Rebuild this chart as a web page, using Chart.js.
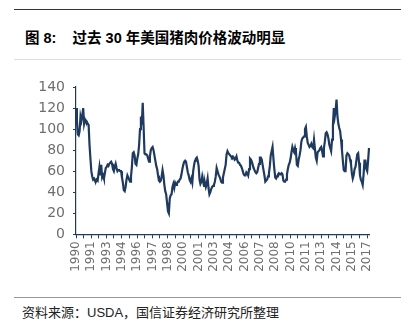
<!DOCTYPE html>
<html>
<head>
<meta charset="utf-8">
<script src="https://cdn.jsdelivr.net/npm/chart.js@4.4.1/dist/chart.umd.min.js"></script>
<style>
    html, body { margin: 0; padding: 0; background: #fff; }
    body { width: 413px; height: 324px; position: relative; overflow: hidden; font-family: "Liberation Sans", "Noto Sans CJK SC", sans-serif; }
    .rule { position: absolute; left: 14px; width: 387px; }
    #title { position: absolute; left: 25px; top: 26px; font-size: 14.5px; font-weight: bold; color: #000; white-space: pre; font-family: "Liberation Sans", "Noto Sans CJK SC", sans-serif; }
    #source { position: absolute; left: 22px; top: 302px; font-size: 13px; color: #222; white-space: pre; font-family: "Liberation Sans", "Noto Sans CJK SC", sans-serif; }
    #wrap { position: absolute; left: 0; top: 70px; width: 413px; height: 210px; }
</style>
</head>
<body>
<div class="rule" style="top: 9px; height: 1px; background: #333;"></div>
<div id="title">图 8:    过去 30 年美国猪肉价格波动明显</div>
<div class="rule" style="top: 59px; height: 1px; background: #ddd;"></div>
<div id="wrap"><canvas id="porkChart" width="413" height="210"></canvas></div>
<div class="rule" style="top: 297px; height: 1px; background: #999;"></div>
<div id="source">资料来源：USDA，国信证券经济研究所整理</div>

<script>
// 月度数据：1990年6月 - 2017年7月
const startYear = 1990;
const startMonth = 6;

// 美国猪肉价格
const porkPrice = [
    120, 108, 95, 94, 98, 112, 108, 113, 120, 105,
    109, 107, 107, 105, 104, 85, 72, 60, 55, 52,
    53, 51, 50, 52, 51, 58, 64, 56, 66, 54,
    56, 53, 58, 63, 64, 66, 65, 67, 68, 69,
    67, 62, 60, 64, 67, 63, 60, 61, 61, 60,
    60, 54, 49, 42, 41, 45, 52, 56, 54, 52,
    50, 55, 64, 77, 78, 75, 67, 66, 72, 76,
    85, 100, 112, 104, 125, 102, 77, 76, 76, 75,
    72, 69, 74, 80, 82, 83, 80, 75, 70, 65,
    62, 56, 51, 50, 51, 55, 61, 56, 47, 41,
    38, 30, 22, 20, 34, 37, 38, 45, 48, 44,
    49, 47, 48, 50, 50, 52, 53, 57, 62, 66,
    69, 70, 69, 64, 59, 56, 52, 50, 53, 49,
    60, 66, 70, 72, 73, 70, 65, 52, 48, 50,
    55, 50, 46, 49, 45, 48, 53, 44, 38, 40,
    43, 45, 46, 47, 50, 55, 63, 60, 57, 55,
    53, 50, 49, 54, 58, 62, 66, 76, 79, 77,
    76, 75, 74, 73, 74, 73, 71, 72, 74, 70,
    68, 68, 66, 65, 63, 60, 57, 56, 56, 59,
    58, 56, 62, 72, 71, 69, 66, 63, 61, 59,
    58, 59, 63, 67, 73, 73, 71, 66, 61, 56,
    50, 51, 52, 55, 58, 65, 75, 79, 83, 72,
    62, 54, 53, 55, 57, 58, 57, 57, 58, 57,
    51, 50, 50, 52, 57, 62, 66, 68, 72, 78,
    83, 80, 78, 82, 78, 66, 65, 71, 75, 80,
    88, 91, 92, 93, 100, 102, 93, 87, 85, 83,
    84, 86, 83, 82, 90, 90, 73, 70, 78, 79,
    80, 82, 83, 79, 74, 82, 88, 96, 97, 95,
    91, 85, 82, 79, 90, 104, 120, 112, 118, 128,
    112, 105, 101, 98, 90, 80, 70, 61, 60, 60,
    75, 77, 76, 75, 71, 67, 58, 53, 56, 62,
    64, 70, 76, 77, 68, 56, 52, 50, 47, 57,
    70, 70, 62, 60, 70, 82
];

// x轴标签（每17个月一个）
const tickLabels = ['1990', '1991', '1993', '1994', '1996', '1997', '1998', '2000', '2001', '2003',
    '2004', '2006', '2007', '2008', '2010', '2011', '2013', '2014', '2015', '2017'];
const labelStep = 17;

const yTicks = [0, 20, 40, 60, 80, 100, 120, 140];

const months = porkPrice.map(function (_, i) {
    const m = startMonth - 1 + i;
    return (startYear + Math.floor(m / 12)) + '-' + String(m % 12 + 1).padStart(2, '0');
});

const navy = '#1f3a5f';
const grey = '#6e6e6e';

const ctx = document.getElementById('porkChart').getContext('2d');
new Chart(ctx, {
    type: 'line',
    data: {
        labels: months,
        datasets: [{
            data: porkPrice,
            borderColor: navy,
            borderWidth: 2.2,
            pointRadius: 0,
            tension: 0,
            fill: false
        }]
    },
    options: {
        responsive: false,
        animation: false,
        layout: { padding: { top: 17, right: 44, left: 0, bottom: 0 } },
        plugins: {
            legend: { display: false },
            tooltip: { enabled: false }
        },
        scales: {
            x: {
                offset: false,
                grid: { display: true, drawOnChartArea: false, drawTicks: true, tickLength: 4, color: navy, lineWidth: 1 },
                border: { display: true, color: navy, width: 1.2 },
                ticks: {
                    autoSkip: false,
                    minRotation: 90,
                    maxRotation: 90,
                    padding: 3,
                    color: grey,
                    font: { family: 'DejaVu Sans', size: 12 },
                    callback: function (value) {
                        return value % labelStep === 0 ? tickLabels[value / labelStep] : '';
                    }
                },
                afterBuildTicks: function (axis) {
                    axis.ticks = axis.ticks.filter(function (t) {
                        const r = t.value % labelStep;
                        return r === 0 || r === 8;
                    });
                },
                afterFit: function (axis) { axis.height = 45.7; }
            },
            y: {
                min: 0,
                max: 140,
                grid: { display: true, drawOnChartArea: false, drawTicks: true, tickLength: 3, color: navy },
                border: { display: true, color: navy, width: 1.2 },
                afterBuildTicks: function (axis) {
                    axis.ticks = yTicks.map(function (v) { return { value: v }; });
                },
                ticks: {
                    padding: 8,
                    color: grey,
                    font: { family: 'DejaVu Sans', size: 14 }
                },
                afterFit: function (axis) { axis.width = 76; }
            }
        }
    }
});
</script>
</body>
</html>
